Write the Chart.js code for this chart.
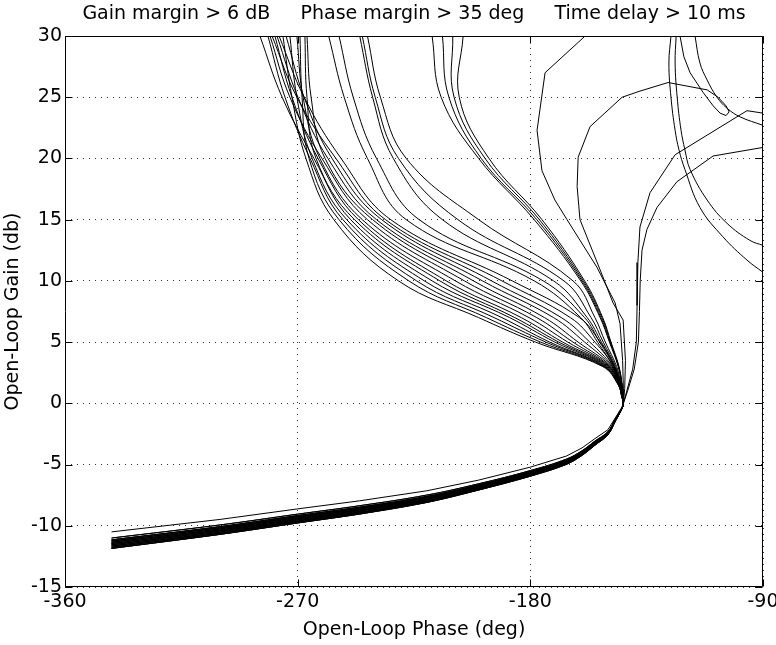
<!DOCTYPE html>
<html>
<head>
<meta charset="utf-8">
<title>Nichols chart</title>
<script src="https://cdn.jsdelivr.net/npm/chart.js@4.4.1/dist/chart.umd.min.js"></script>
<style>
  html, body { margin: 0; padding: 0; background: #fff; }
  canvas { display: block; }
</style>
</head>
<body>
<canvas id="nichols" width="776" height="645"></canvas>
<script>
const titleText = 'Gain margin > 6 dB     Phase margin > 35 deg     Time delay > 10 ms';
const phaseTicks = [-360, -270, -180, -90];
const gainTicks = [-15, -10, -5, 0, 5, 10, 15, 20, 25, 30];

// low-frequency side of the main bundle: phase (deg) at each of these gains (dB)
const fanGain = [30, 25, 20, 15, 10, 7, 5, 3, 1.5, 0.5];
const bundlePhase = [
    [-275.7, -272.2, -266.8, -256, -231, -200, -178, -152, -146, -144.6],
    [-269.1, -268.3, -265.6, -254, -227, -197, -176, -151.6, -145.9, -144.6],
    [-281.5, -274.9, -265.2, -252.5, -224, -194, -174, -151.3, -145.9, -144.6],
    [-273, -270.3, -264.4, -251, -221, -191, -172.5, -151, -145.8, -144.5],
    [-284.6, -276, -263.7, -249.5, -218, -188, -170.5, -150.6, -145.7, -144.5],
    [-267.2, -266.4, -262.9, -248, -215, -186, -169, -150.2, -145.6, -144.5],
    [-278.8, -272.2, -262.1, -246.5, -212.5, -183.5, -167.5, -149.8, -145.5, -144.5],
    [-270.3, -267.9, -261.4, -245, -209, -180.5, -165.5, -149.5, -145.5, -144.4],
    [-280.7, -273, -260.6, -243, -205.5, -177.5, -163.5, -149.2, -145.4, -144.4],
    [-266.4, -264.8, -259.4, -241, -202, -174.5, -161.5, -148.8, -145.3, -144.4],
    [-278, -269.9, -258.3, -239.5, -198.5, -171, -159, -148.5, -145.2, -144.4],
    [-274.5, -267.5, -256.7, -237.5, -195, -168, -157, -148.2, -145.1, -144.3],
    [-279.9, -270.3, -255.2, -236, -191, -164.5, -155, -147.8, -145, -144.3],
    [-277.2, -267.5, -253.2, -234, -187, -161, -153, -147.5, -145, -144.3],
    [-258, -252, -243, -228, -178.5, -160.5, -154, -148, -145.2, -144.3],
    [-254, -248.5, -239.5, -223, -175, -159, -153.2, -147.6, -145.1, -144.3],
    [-246, -241, -233, -214, -171, -158, -152.5, -147.3, -145, -144.2],
    [-245, -240, -231, -208, -167, -156.5, -151.8, -147, -144.9, -144.2],
    [-243, -238, -228, -200, -163.5, -155, -151, -146.6, -144.8, -144.2],
    [-218, -214.5, -200, -178.5, -160.5, -153, -149.4, -146, -144.6, -144.2],
    [-214, -211.5, -199, -177.5, -160, -152.7, -149.2, -145.9, -144.6, -144.2],
    [-210, -209.5, -197.5, -176.5, -159.5, -152.3, -149, -145.8, -144.5, -144.1],
    [-206, -207.5, -196, -175.5, -159, -152, -148.8, -145.7, -144.5, -144.1]
];
const bundleLower = [1, 3, 5, 7, 9, 2, 4, 6, 8, 1, 3, 5, 7, 9, 2, 4, 6, 8, 3, 5, 7, 2, 4];

// high-frequency side: gain (dB) of each variant at these phases (deg)
const lowerPhase = [-144, -144.6, -147, -150, -155, -160, -166, -180, -200, -220, -246, -270, -300, -342];
const lowerGain = [
    [0, -0.32, -1.14, -2.16, -2.88, -3.64, -4.3, -5.21, -6.27, -7.14, -7.96, -8.62, -9.48, -10.5],
    [0, -0.37, -1.24, -2.31, -3.08, -3.87, -4.55, -5.49, -6.57, -7.49, -8.36, -9.05, -9.93, -11.0],
    [0, -0.39, -1.27, -2.36, -3.14, -3.93, -4.63, -5.57, -6.66, -7.6, -8.48, -9.17, -10.07, -11.15],
    [0, -0.4, -1.29, -2.39, -3.18, -3.98, -4.68, -5.62, -6.72, -7.66, -8.56, -9.26, -10.16, -11.25],
    [0, -0.4, -1.31, -2.42, -3.22, -4.02, -4.72, -5.68, -6.78, -7.74, -8.64, -9.34, -10.25, -11.35],
    [0, -0.42, -1.33, -2.45, -3.26, -4.07, -4.78, -5.73, -6.84, -7.81, -8.72, -9.43, -10.34, -11.45],
    [0, -0.43, -1.35, -2.48, -3.3, -4.11, -4.83, -5.79, -6.9, -7.88, -8.8, -9.51, -10.43, -11.55],
    [0, -0.44, -1.37, -2.51, -3.34, -4.16, -4.88, -5.84, -6.96, -7.95, -8.88, -9.6, -10.52, -11.65],
    [0, -0.45, -1.39, -2.54, -3.38, -4.2, -4.93, -5.9, -7.02, -8.02, -8.96, -9.68, -10.61, -11.75],
    [0, -0.46, -1.41, -2.57, -3.42, -4.25, -4.98, -5.95, -7.08, -8.09, -9.04, -9.77, -10.7, -11.85]
];

// odd plants, [phase, gain] pairs from the top of the plot down to the crossover
const hookW = [[-158.8, 30], [-174.3, 27], [-177.4, 22.3], [-175.5, 19], [-170.5, 16.6], [-165.8, 15],
    [-154.2, 11.1], [-147.2, 8.2], [-145.3, 6.5], [-144.3, 3.5], [-144, 1.2]];
const loopX = [[-122.1, 30], [-120.6, 28.3], [-118.2, 27], [-113.2, 25.4], [-109.3, 24.3], [-106.6, 23.7],
    [-104.3, 23.5], [-103.1, 23.8], [-104.3, 24.3], [-107.4, 25], [-111.6, 25.6], [-126.7, 26.2],
    [-137.6, 25.5], [-144.5, 25], [-156.9, 22.6], [-161.5, 20.1], [-161.9, 17.7], [-160.8, 15],
    [-153, 10.9], [-148, 8.2], [-144.1, 6.8], [-143.2, 3.5], [-143.5, 1.2]];
const branch2 = [[-90, 20.9], [-109.3, 20.2], [-123.3, 18.1], [-131, 16], [-134.9, 14.2], [-136.8, 12.5],
    [-137.5, 10], [-137.8, 7.5], [-138.2, 5], [-139.8, 2.8], [-142.4, 1]];
const branch3 = [[-90, 23.7], [-96.2, 23.9], [-124, 20.3], [-133.7, 17.2], [-137.6, 14.4], [-138.4, 11.5],
    [-138.7, 8], [-139, 5], [-140.4, 2.8], [-142.7, 1]];
const oddLower = [6, 8, 0, 9];

// resonance arcs in the upper right corner
const arcP = [[-123.6, 30], [-124, 27.8], [-123.2, 25], [-121.7, 22.3], [-120.2, 20.7], [-118.2, 19.1],
    [-111.6, 16.6], [-103.9, 14.7], [-95, 13.3], [-90, 12.9]];
const arcQ = [[-125.6, 30], [-126.4, 27.8], [-125.6, 25], [-124, 22.3], [-122.5, 20.7], [-120.2, 19.1],
    [-114.4, 16], [-105.5, 13.6], [-96.2, 11.7], [-90, 10.7]];
const arcR = [[-116.3, 30], [-114.4, 27.8], [-111.6, 26.4], [-107.8, 25], [-103.9, 24.1], [-98.9, 23.4],
    [-90, 22.7]];

const font = { family: '"DejaVu Sans", Arial, sans-serif', size: 19 };

function line(data, tension) {
    return { data: data, tension: tension, borderColor: '#000', borderWidth: 1, pointRadius: 0, showLine: true, fill: false };
}

function withLower(points, variant, tension) {
    let data = points.map(p => ({ x: p[0], y: p[1] }));
    lowerPhase.forEach((ph, j) => data.push({ x: ph, y: lowerGain[variant][j] }));
    return line(data, tension);
}

function initNichols() {
    let datasets = [];
    bundlePhase.forEach((phases, i) => {
        let upper = phases.map((ph, j) => [ph, fanGain[j]]);
        datasets.push(withLower(upper, bundleLower[i], 0.4));
    });
    [hookW, loopX, branch2, branch3].forEach((c, i) => datasets.push(withLower(c, oddLower[i], 0)));
    [arcP, arcQ, arcR].forEach(c => datasets.push(line(c.map(p => ({ x: p[0], y: p[1] })), 0.4)));

    // box, inward ticks and the heading
    const frame = {
        id: 'frame',
        afterDraw(chart) {
            const { ctx, chartArea: a, scales } = chart;
            const l = Math.round(a.left) + 0.5, r = Math.round(a.right) - 0.5;
            const t = Math.round(a.top) + 0.5, b = Math.round(a.bottom) - 0.5;
            ctx.save();
            ctx.setLineDash([]);
            ctx.strokeStyle = '#000';
            ctx.lineWidth = 1;
            ctx.beginPath();
            ctx.moveTo(l, t); ctx.lineTo(r, t); ctx.lineTo(r, b); ctx.lineTo(l, b); ctx.closePath();
            phaseTicks.forEach(v => {
                const px = Math.round(scales.x.getPixelForValue(v)) + 0.5;
                ctx.moveTo(px, b); ctx.lineTo(px, b - 7);
                ctx.moveTo(px, t); ctx.lineTo(px, t + 7);
            });
            gainTicks.forEach(v => {
                const py = Math.round(scales.y.getPixelForValue(v)) + 0.5;
                ctx.moveTo(l, py); ctx.lineTo(l + 7, py);
                ctx.moveTo(r, py); ctx.lineTo(r - 7, py);
            });
            ctx.stroke();
            ctx.font = font.size + 'px ' + font.family;
            ctx.fillStyle = '#000';
            ctx.textAlign = 'center';
            ctx.textBaseline = 'alphabetic';
            ctx.fillText(titleText, (a.left + a.right) / 2, 19);
            ctx.restore();
        }
    };

    new Chart(document.getElementById('nichols'), {
        type: 'scatter',
        data: { datasets: datasets },
        options: {
            responsive: false,
            animation: false,
            events: [],
            layout: { padding: { top: 36, right: 13, left: 0, bottom: 0 } },
            plugins: { legend: { display: false }, tooltip: { enabled: false }, title: { display: false } },
            scales: {
                x: {
                    type: 'linear', min: -360, max: -90,
                    ticks: { stepSize: 90, autoSkip: false, maxRotation: 0, color: '#000', font: font, padding: 4 },
                    grid: { color: '#333', lineWidth: 1, drawTicks: false },
                    border: { display: false, dash: [1, 5] },
                    title: { display: true, text: 'Open-Loop Phase (deg)', color: '#000', font: font, padding: { top: 0, bottom: 4 } },
                    afterFit(s) { s.height = 58; s.paddingLeft = 0; s.paddingRight = 0; }
                },
                y: {
                    type: 'linear', min: -15, max: 30,
                    ticks: { stepSize: 5, autoSkip: false, color: '#000', font: font, padding: 3 },
                    grid: { color: '#333', lineWidth: 1, drawTicks: false },
                    border: { display: false, dash: [1, 5] },
                    title: { display: true, text: 'Open-Loop Gain (db)', color: '#000', font: font, padding: { top: 2, bottom: 0 } },
                    afterFit(s) { s.width = 65; s.paddingTop = 0; s.paddingBottom = 0; }
                }
            }
        },
        plugins: [frame]
    });
}

initNichols();
</script>
</body>
</html>
